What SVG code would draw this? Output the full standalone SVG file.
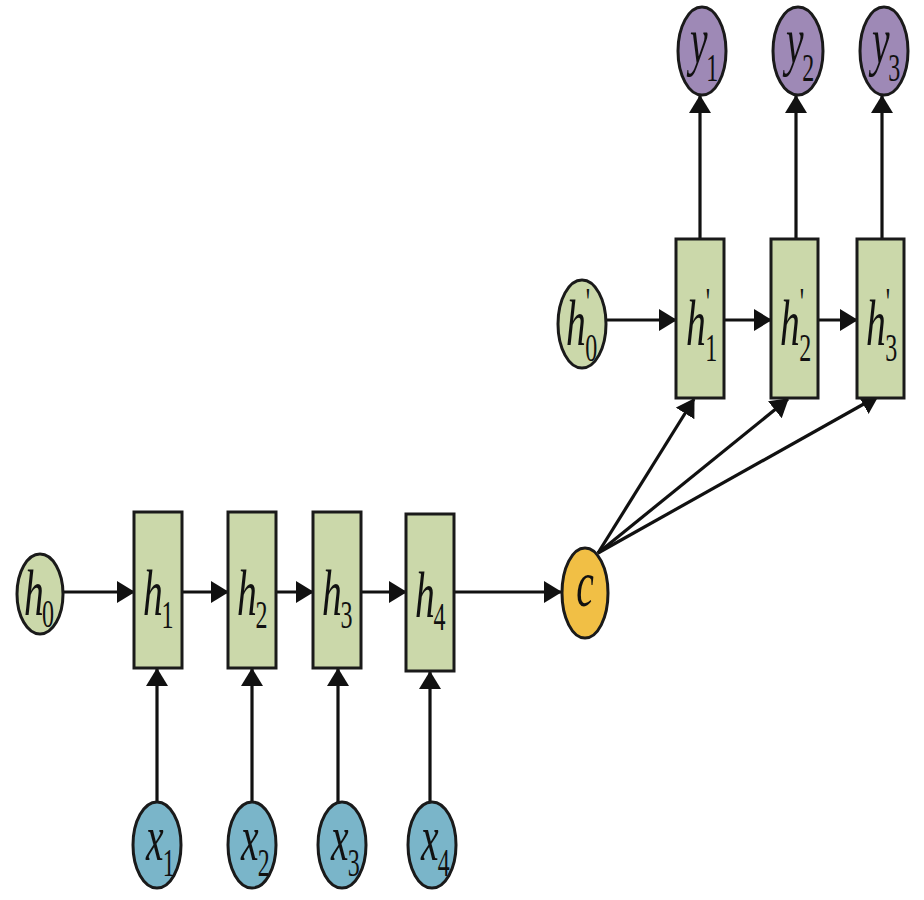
<svg xmlns="http://www.w3.org/2000/svg" width="924" height="900" viewBox="0 0 924 900">
<defs>
<style>
.g{fill:#cbd8aa;stroke:#1a1a1a;stroke-width:3}
.b{fill:#7ab5c9;stroke:#1a1a1a;stroke-width:3}
.p{fill:#9e89b6;stroke:#1a1a1a;stroke-width:3}
.o{fill:#f1bf45;stroke:#1a1a1a;stroke-width:3}
.t{font-style:italic;font-size:66px;fill:#111}
.s{font-style:normal;font-size:40px;fill:#111}
.c line{stroke:#111;stroke-width:3.2;marker-end:url(#ah)}
</style>
<marker id="ah" markerUnits="userSpaceOnUse" markerWidth="22" markerHeight="24" refX="17" refY="11" orient="auto">
<path d="M0,0 L18,11 L0,22 Z" fill="#111"/>
</marker>
</defs>
<rect width="924" height="900" fill="#fff"/>
<g class="c" id="connectors">
<line x1="63" y1="592" x2="134" y2="592"/>
<line x1="182" y1="592" x2="228" y2="592"/>
<line x1="276" y1="592" x2="313" y2="592"/>
<line x1="361" y1="592" x2="406" y2="592"/>
<line x1="454" y1="592" x2="561" y2="592"/>
<line x1="606" y1="320" x2="676" y2="320"/>
<line x1="724" y1="320" x2="771" y2="320"/>
<line x1="818" y1="320" x2="857" y2="320"/>
<line x1="700" y1="239" x2="700" y2="96"/>
<line x1="796" y1="239" x2="796" y2="96"/>
<line x1="882" y1="239" x2="882" y2="96"/>
<line x1="157" y1="802" x2="157" y2="669"/>
<line x1="252" y1="802" x2="252" y2="669"/>
<line x1="338" y1="802" x2="338" y2="669"/>
<line x1="430" y1="802" x2="430" y2="672"/>
<line x1="598" y1="553" x2="694" y2="399"/>
<line x1="598" y1="553" x2="788" y2="399"/>
<line x1="598" y1="553" x2="878" y2="396"/>
</g>
<g font-family="Liberation Serif, DejaVu Serif, serif">
<g id="h0"><ellipse class="g" cx="40" cy="594" rx="23" ry="40"/>
<g transform="translate(24,615) scale(0.6,1)"><text class="t" x="0" y="0">h</text><text class="s" x="30" y="12">0</text></g></g>
<g id="h1"><rect class="g" x="134" y="512" width="48" height="156"/>
<g transform="translate(143,615) scale(0.6,1)"><text class="t" x="0" y="0">h</text><text class="s" x="31" y="13">1</text></g></g>
<g id="h2"><rect class="g" x="228" y="512" width="48" height="156"/>
<g transform="translate(237,615) scale(0.6,1)"><text class="t" x="0" y="0">h</text><text class="s" x="31" y="13">2</text></g></g>
<g id="h3"><rect class="g" x="313" y="512" width="48" height="156"/>
<g transform="translate(322,615) scale(0.6,1)"><text class="t" x="0" y="0">h</text><text class="s" x="31" y="13">3</text></g></g>
<g id="h4"><rect class="g" x="406" y="514" width="48" height="157"/>
<g transform="translate(415,617) scale(0.6,1)"><text class="t" x="0" y="0">h</text><text class="s" x="31" y="13">4</text></g></g>
<g id="c"><ellipse class="o" cx="585" cy="593" rx="23" ry="45"/>
<g transform="translate(585,606) scale(0.6,1)"><text class="t" x="0" y="0" text-anchor="middle">c</text></g></g>
<g id="h0p"><ellipse class="g" cx="582" cy="324" rx="24" ry="44"/>
<g transform="translate(566,345) scale(0.6,1)"><text class="t" x="0" y="0">h</text><text class="s" x="33" y="-30">'</text><text class="s" x="32" y="16">0</text></g></g>
<g id="h1p"><rect class="g" x="676" y="239" width="48" height="159"/>
<g transform="translate(686,345) scale(0.6,1)"><text class="t" x="0" y="0">h</text><text class="s" x="33" y="-30">'</text><text class="s" x="32" y="16">1</text></g></g>
<g id="h2p"><rect class="g" x="771" y="239" width="47" height="159"/>
<g transform="translate(780,345) scale(0.6,1)"><text class="t" x="0" y="0">h</text><text class="s" x="33" y="-30">'</text><text class="s" x="32" y="16">2</text></g></g>
<g id="h3p"><rect class="g" x="857" y="239" width="47" height="159"/>
<g transform="translate(866,345) scale(0.6,1)"><text class="t" x="0" y="0">h</text><text class="s" x="33" y="-30">'</text><text class="s" x="32" y="16">3</text></g></g>
<g id="y1"><ellipse class="p" cx="702" cy="51" rx="24" ry="44"/>
<g transform="translate(690,63) scale(0.6,1)"><text class="t" x="0" y="0">y</text><text class="s" x="27" y="18">1</text></g></g>
<g id="y2"><ellipse class="p" cx="798" cy="51" rx="25" ry="44"/>
<g transform="translate(786,63) scale(0.6,1)"><text class="t" x="0" y="0">y</text><text class="s" x="27" y="18">2</text></g></g>
<g id="y3"><ellipse class="p" cx="884" cy="51" rx="24" ry="44"/>
<g transform="translate(872,63) scale(0.6,1)"><text class="t" x="0" y="0">y</text><text class="s" x="27" y="18">3</text></g></g>
<g id="x1"><ellipse class="b" cx="157" cy="845" rx="24" ry="43"/>
<g transform="translate(146,860) scale(0.6,1)"><text class="t" x="0" y="0">x</text><text class="s" x="28" y="16">1</text></g></g>
<g id="x2"><ellipse class="b" cx="252" cy="845" rx="24" ry="43"/>
<g transform="translate(241,860) scale(0.6,1)"><text class="t" x="0" y="0">x</text><text class="s" x="28" y="16">2</text></g></g>
<g id="x3"><ellipse class="b" cx="342" cy="845" rx="24" ry="43"/>
<g transform="translate(331,860) scale(0.6,1)"><text class="t" x="0" y="0">x</text><text class="s" x="28" y="16">3</text></g></g>
<g id="x4"><ellipse class="b" cx="432" cy="845" rx="24" ry="43"/>
<g transform="translate(421,860) scale(0.6,1)"><text class="t" x="0" y="0">x</text><text class="s" x="28" y="16">4</text></g></g>
</g>
</svg>
